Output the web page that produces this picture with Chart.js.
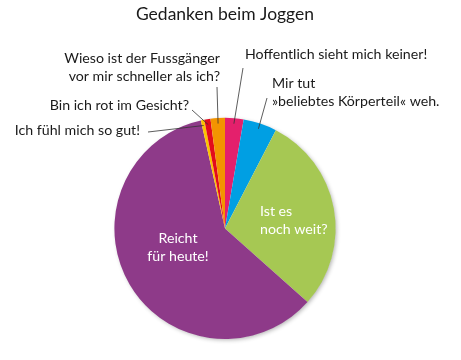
<!DOCTYPE html>
<html>
<head>
<meta charset="utf-8">
<script src="https://cdn.jsdelivr.net/npm/chart.js@4/dist/chart.umd.min.js"></script>
<style>
  html, body { margin: 0; padding: 0; background: #fff; }
  #wrap { width: 461px; height: 360px; }
</style>
</head>
<body>
<div id="wrap"><canvas id="myChart"></canvas></div>
<script>
// werte, im uhrzeigersinn ab 12 uhr
const kategorien = ['Hoffentlich sieht mich keiner!', 'Mir tut »beliebtes Körperteil« weh.', 'Ist es noch weit?',
  'Reicht für heute!', 'Ich fühl mich so gut!', 'Bin ich rot im Gesicht?', 'Wieso ist der Fussgänger vor mir schneller als ich?']
const werte = [2.7, 4.9, 29, 59.9, 0.5, 0.9, 2.1]
const farben = ['#e4206c', '#009fe3', '#a6c853', '#8e3a89', '#fbc300', '#e30b1b', '#f39400']

// beschriftungen: zeilen, position, ausrichtung, ende der linie (aussen)
const beschriftung = [
  { zeilen: ['Hoffentlich sieht mich keiner!'], x: 245, y: 54, align: 'left', linie: [243, 68] },
  { zeilen: ['Mir tut', '»beliebtes Körperteil« weh.'], x: 272, y: 83, align: 'left', linie: [267, 98] },
  { zeilen: ['Ist es', 'noch weit?'], x: 260, y: 211, align: 'left', innen: true },
  { zeilen: ['Reicht', 'für heute!'], x: 178, y: 238, align: 'center', innen: true },
  { zeilen: ['Ich fühl mich so gut!'], x: 140, y: 130, align: 'right', linie: [148, 132] },
  { zeilen: ['Bin ich rot im Gesicht?'], x: 189, y: 105, align: 'right', linie: [192, 110] },
  { zeilen: ['Wieso ist der Fussgänger', 'vor mir schneller als ich?'], x: 220, y: 58, align: 'right', linie: [217, 87] }
]

const schrift = '14.2px Lato, "Open Sans", sans-serif'

const texte = {
  id: 'texte',
  beforeDatasetsDraw(chart) {
    const arc = chart.getDatasetMeta(0).data[0]
    const c = chart.ctx
    c.save()
    c.shadowColor = 'rgba(0,0,0,0.3)'
    c.shadowBlur = 4
    c.shadowOffsetX = 1.5
    c.shadowOffsetY = 1.5
    c.fillStyle = '#fff'
    c.beginPath()
    c.arc(arc.x, arc.y, arc.outerRadius - 0.5, 0, Math.PI * 2)
    c.fill()
    c.restore()
  },
  afterDatasetsDraw(chart) {
    const c = chart.ctx
    const arcs = chart.getDatasetMeta(0).data
    c.save()
    c.font = schrift
    c.textBaseline = 'middle'
    beschriftung.forEach((b, i) => {
      const a = arcs[i]
      if (b.linie) {
        const mitte = (a.startAngle + a.endAngle) / 2
        const r = a.outerRadius * 0.95
        c.strokeStyle = '#333'
        c.lineWidth = 0.8
        c.beginPath()
        c.moveTo(b.linie[0], b.linie[1])
        c.lineTo(a.x + Math.cos(mitte) * r, a.y + Math.sin(mitte) * r)
        c.stroke()
      }
      c.fillStyle = b.innen ? '#fff' : '#1a1a1a'
      c.textAlign = b.align
      b.zeilen.forEach((z, k) => c.fillText(z, b.x, b.y + k * 18))
    })
    c.restore()
  }
}

new Chart(document.getElementById('myChart'), {
  type: 'pie',
  data: {
    labels: kategorien,
    datasets: [{
      data: werte,
      backgroundColor: farben,
      borderWidth: 0
    }]
  },
  options: {
    responsive: true,
    maintainAspectRatio: false,
    animation: false,
    layout: { padding: { left: 114, right: 125, bottom: 21, top: 0 } },
    plugins: {
      legend: { display: false },
      tooltip: { enabled: false },
      title: {
        display: true,
        text: 'Gedanken beim Joggen',
        color: '#1a1a1a',
        font: { family: 'Lato, "Open Sans", sans-serif', size: 17.5, weight: 'normal' },
        padding: { top: 4, bottom: 92.8 }
      }
    }
  },
  plugins: [texte]
})
</script>
</body>
</html>
